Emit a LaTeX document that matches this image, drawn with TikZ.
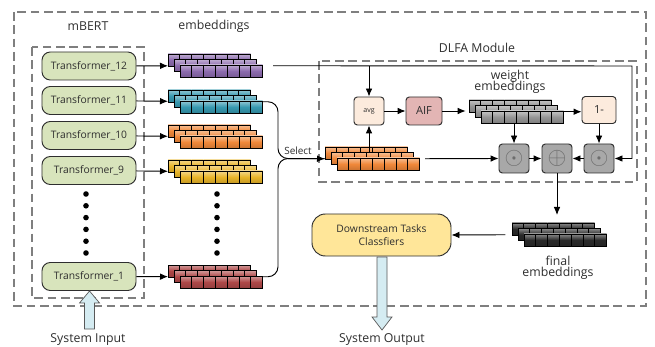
\documentclass[tikz,border=0pt]{standalone}
\usepackage{fontspec}
\setmainfont{Open Sans}
\usetikzlibrary{arrows.meta}

\definecolor{txt}{HTML}{2E2E2E}
\definecolor{dashgray}{HTML}{7F7F7F}
\definecolor{transfill}{HTML}{D8E4BC}
\definecolor{peach}{HTML}{FCEBDD}
\definecolor{aiffill}{HTML}{E3B5B4}
\definecolor{opfill}{HTML}{A8A8A8}
\definecolor{dsfill}{HTML}{FFE699}
\definecolor{bigarrow}{HTML}{D5ECF2}
\definecolor{cpurple}{HTML}{8C6BAE}
\definecolor{cteal}{HTML}{3799B0}
\definecolor{corange}{HTML}{F0883A}
\definecolor{cyellow}{HTML}{E8B52A}
\definecolor{cred}{HTML}{AE4848}
\definecolor{cgray}{HTML}{969696}
\definecolor{cblack}{HTML}{2A2A2A}

\tikzset{transformer/.style={draw=txt,fill=transfill,rounded corners=0.25cm,line width=0.8pt,minimum width=2.82cm,minimum height=0.84cm,inner sep=0,font=\fontsize{8.8}{10}\selectfont,text=txt},
small box/.style={draw=txt,rounded corners=0.1cm,line width=0.8pt,minimum width=0.9cm,minimum height=0.84cm,inner sep=0,text=txt},
op box/.style={draw=txt,fill=opfill,rounded corners=0.1cm,line width=0.8pt,minimum width=0.9cm,minimum height=0.87cm,inner sep=0,text=txt!70,font=\fontsize{20}{20}\selectfont},
label/.style={font=\fontsize{10.5}{12}\selectfont,text=txt,inner sep=0,align=center},
dashed box/.style={draw=dashgray,line width=1.1pt,dash pattern=on 2.6mm off 1.4mm},
cell/.style={draw=black,line width=0.7pt},
link/.style={draw=black,line width=0.8pt},
flow/.style={link,-{Latex[length=2.4mm,width=2mm]}},
block arrow/.style={draw=txt!80,fill=bigarrow,line width=0.6pt,line join=miter}}

%% one stack of embeddings: name, x, y (top left of back layer), colour
\newcommand{\embstack}[4]{%
  \foreach \l in {0,1,2}{
    \foreach \c in {0,...,6}{
      \draw[cell,top color=#4!55!white,bottom color=#4!85!black,middle color=#4] ({#2+6*\l+11.8*\c},{#3+5.5*\l}) rectangle +(11.8,12);
    }
  }
  \node[inner sep=0,minimum width=2.838cm,minimum height=0.69cm,anchor=north west] (#1) at (#2,#3) {};
}

\begin{document}
\begin{tikzpicture}[x=0.03cm,y=-0.03cm]
\useasboundingbox (0,0) rectangle (655,347);

%% dashed frames
\draw[dashed box] (14,12) rectangle (646,306);
\draw[dashed box] (32,47) rectangle (144,298);
\draw[dashed box] (319,61) rectangle (637,182);

%% titles
\node[label] (lbert) at (88,26) {mBERT};
\node[label] (lemb) at (214,26) {embeddings};
\node[label] (ldlfa) at (477,48) {DLFA Module};

%% transformer layers
\node[transformer] (t12) at (89,66) {Transformer\_12};
\node[transformer] (t11) at (89,100.5) {Transformer\_11};
\node[transformer] (t10) at (89,135.5) {Transformer\_10};
\node[transformer] (t9) at (89,170.5) {Transformer\_9};
\node[transformer] (t1) at (89,276.5) {Transformer\_1};

%% embeddings of each layer
\embstack{e12}{168}{54}{cpurple}
\embstack{e11}{168}{90}{cteal}
\embstack{e10}{168}{125}{corange}
\embstack{e9}{168}{160}{cyellow}
\embstack{e1}{168}{265}{cred}

%% dots
\foreach \y in {194,205.8,...,254}{
  \fill (86,\y) circle (2.8);
  \fill (217,\y) circle (2.8);
}

%% layer to embeddings
\draw[flow] (t12) -- (e12);
\draw[flow] (t11) -- (e11);
\draw[flow] (t10) -- (e10);
\draw[flow] (t9) -- (e9);
\draw[flow] (t1) -- (e1);

%% DLFA module
\embstack{sel}{325}{147}{corange}
\node[small box,fill=peach,font=\fontsize{6}{7}\selectfont] (avg) at (369,111) {avg};
\node[small box,fill=aiffill,minimum width=1.08cm,font=\fontsize{9.5}{10}\selectfont] (aif) at (424,111) {AIF};
\embstack{w}{469}{100}{cgray}
\node[label] (lw) at (510,82) {weight\\[-3pt]embeddings};
\node[small box,fill=peach,minimum width=1.02cm,minimum height=0.81cm,font=\fontsize{9.5}{10}\selectfont] (one) at (599,110) {1-};
\node[op box] (opL) at (514,158.5) {$\odot$};
\node[op box] (opP) at (557,158.5) {$\oplus$};
\node[op box] (opR) at (599,158.5) {$\odot$};

%% select
\coordinate (jn) at (278,158.5);
\draw[link,rounded corners=0.3cm] (e11.east) -| (jn) -- (sel.west);
\draw[flow,rounded corners=0.3cm] (e1.east) -| (jn) -- (sel.west);
\node[label,font=\fontsize{8.5}{9}\selectfont] (lsel) at (298,151) {Select};

%% last layer line
\coordinate (rc) at (632,66);
\draw[flow] ([xshift=0.3cm]e12.east) -- (rc) |- (opR.east);
\draw[flow] (avg.north |- rc) -- (avg.north);

%% module arrows
\draw[flow] ([yshift=-0.15cm]avg.south |- sel.north) -- (avg.south);
\draw[flow] (avg) -- (aif);
\draw[flow,shorten >=0.1cm] (aif.east) -- (aif.east -| w.west);
\draw[flow] (w.east) -- (w.east -| one.west);
\draw[flow] (opL.north |- w.south) -- (opL.north);
\draw[flow] (one) -- (opR);
\draw[flow] ([xshift=0.15cm]sel.east) -- (opL.west);
\draw[flow] (opL) -- (opP);
\draw[flow] (opR) -- (opP);

%% final embeddings and classifier
\embstack{fin}{512}{223}{cblack}
\node[label] (lfin) at (558,267.5) {final\\[-3pt]embeddings};
\node[draw=txt,fill=dsfill,rounded corners=0.4cm,line width=0.8pt,minimum width=4.17cm,minimum height=1.26cm,align=center,text=txt,font=\fontsize{8.8}{11}\selectfont] (ds) at (381.5,235) {Downstream Tasks\\Classfiers};
\draw[flow,shorten >=0.24cm] (opP.south) -- (opP.south |- fin.north);
\draw[flow] ([xshift=-0.2cm]fin.west) -- (ds.east);

%% system input and output
\node[label] (lin) at (88,340) {System Input};
\node[label] (lout) at (382,340) {System Output};
\draw[block arrow] (84.5,329) -- (94.5,329) -- (94.5,303) -- (99.5,303) -- (89.5,291) -- (79.5,303) -- (84.5,303) -- cycle;
\draw[block arrow] (377,257) -- (387,257) -- (387,317) -- (392,317) -- (382,330) -- (372,317) -- (377,317) -- cycle;

\end{tikzpicture}
\end{document}
